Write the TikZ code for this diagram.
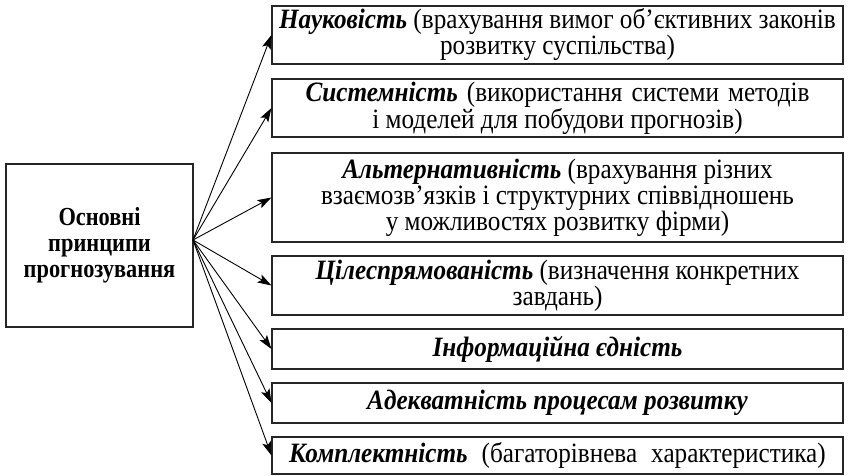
\documentclass[tikz,border=0pt]{standalone}
\usepackage{fontspec}
\setmainfont{Liberation Serif}[FakeStretch=0.9]
\newfontfamily\mainboxfont{Liberation Serif}[FakeStretch=0.86]
\usetikzlibrary{arrows.meta}
\begin{document}
\begin{tikzpicture}[x=1pt,y=-1pt,
  box/.style={draw=black!85, line width=1.1pt, align=center, inner sep=0pt,
    font=\fontsize{28}{26}\selectfont},
  arr/.style={line width=0.9pt, -{Stealth[length=14pt,width=9pt,inset=3pt]}}]
\useasboundingbox (0,0) rectangle (848,476);
\node[box, minimum width=187pt, minimum height=163pt, font=\mainboxfont\bfseries\fontsize{26}{26}\selectfont] (main) at (99.5,245.5) {Основні\\принципи\\прогнозування};
\node[box, minimum width=571pt, minimum height=58pt] (b1) at (557.5,35) {\textbf{\textit{Науковість}} (врахування вимог об’єктивних законів\\розвитку суспільства)};
\node[box, minimum width=571pt, minimum height=58pt] (b2) at (557.5,108) {\spaceskip=9pt plus 2pt\relax\textbf{\textit{Системність}} (використання системи методів\\і моделей для побудови прогнозів)};
\node[box, minimum width=571pt, minimum height=89pt] (b3) at (557.5,197.5) {\textbf{\textit{Альтернативність}} (врахування різних\\взаємозв’язків і структурних співвідношень\\у можливостях розвитку фірми)};
\node[box, minimum width=571pt, minimum height=59pt] (b4) at (557.5,285.5) {\textbf{\textit{Цілеспрямованість}} (визначення конкретних\\завдань)};
\node[box, minimum width=571pt, minimum height=40pt] (b5) at (557.5,349) {\textbf{\textit{Інформаційна єдність}}};
\node[box, minimum width=571pt, minimum height=40pt] (b6) at (557.5,403) {\textbf{\textit{Адекватність процесам розвитку}}};
\node[box, minimum width=571pt, minimum height=37pt] (b7) at (557.5,455.5) {\spaceskip=14pt plus 2pt\relax\textbf{\textit{Комплектність}} (багаторівнева характеристика)};
\coordinate (o) at (193,240);
\foreach \b in {b1,b2,b3,b4,b5,b6,b7} \draw[arr] (o) -- (\b.west);
\end{tikzpicture}
\end{document}
